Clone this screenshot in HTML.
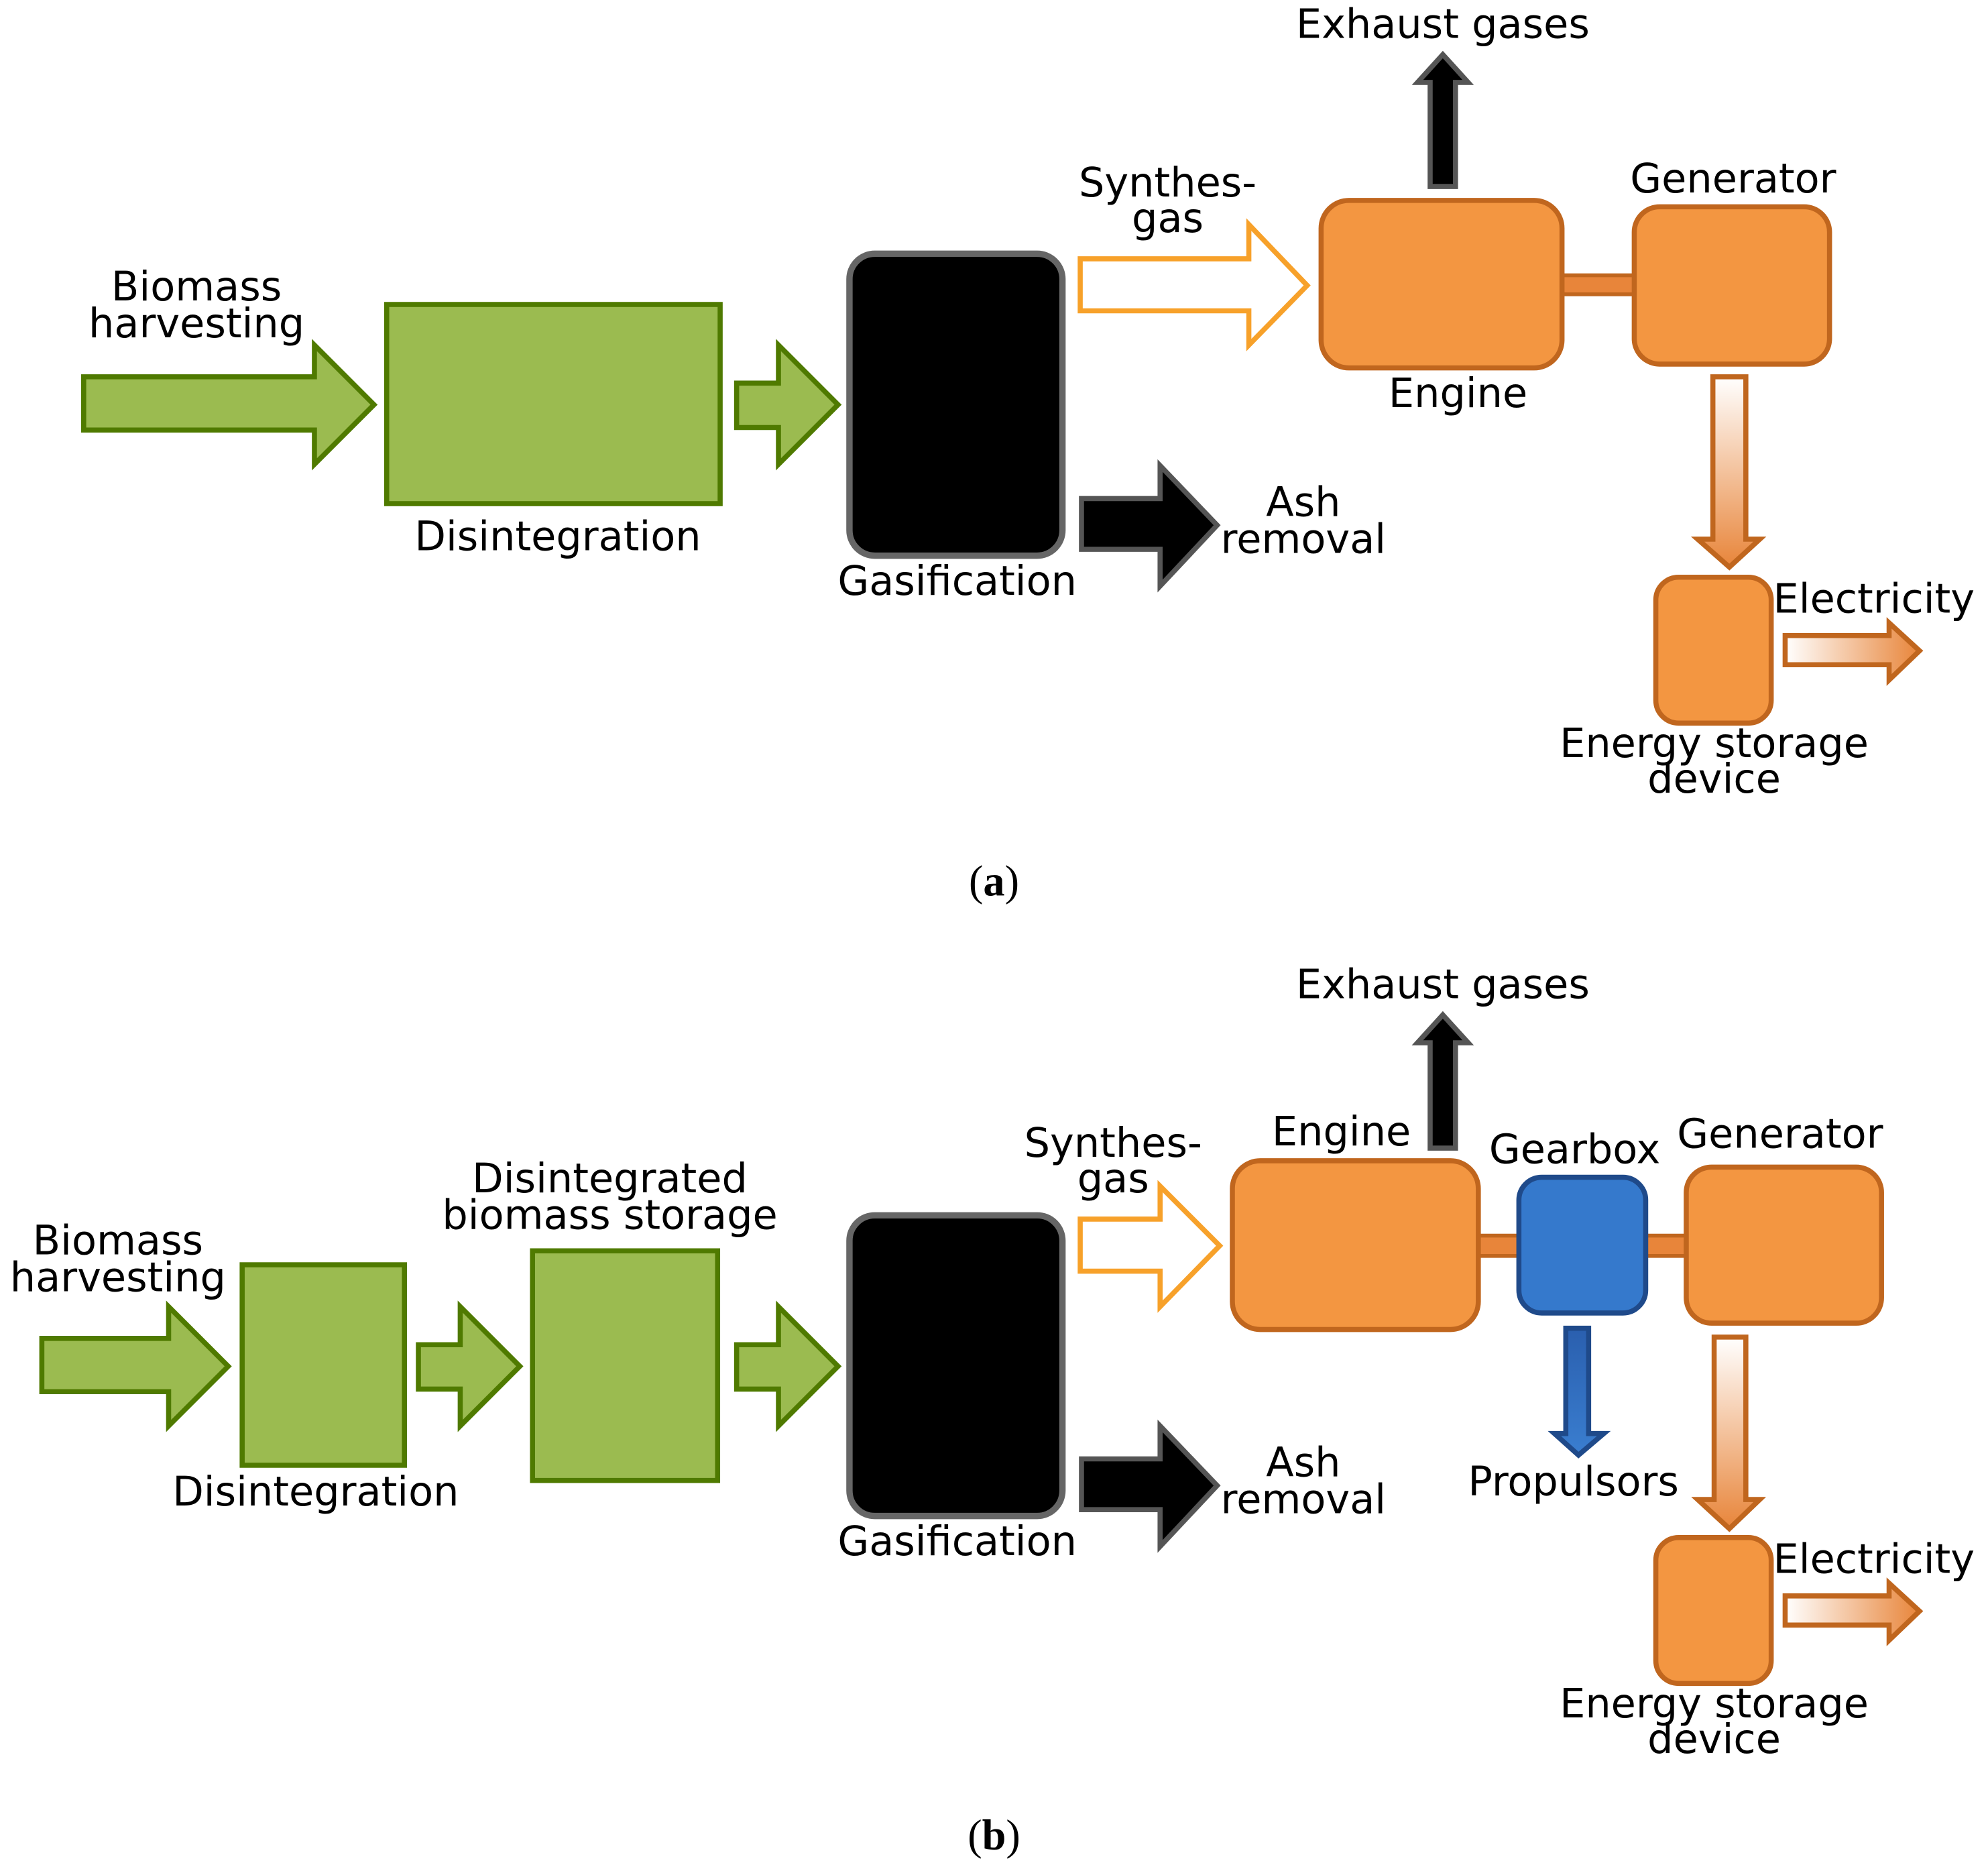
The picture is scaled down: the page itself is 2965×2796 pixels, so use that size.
<!DOCTYPE html>
<html><head><meta charset="utf-8"><style>html,body{margin:0;padding:0;background:#fff}svg{display:block}</style></head>
<body>
<svg width="2965" height="2796" viewBox="0 0 1568 1478" preserveAspectRatio="none" xmlns="http://www.w3.org/2000/svg">
<defs>
<linearGradient id="gv" x1="0" y1="0" x2="0" y2="1"><stop offset="0" stop-color="#fff"/><stop offset="1" stop-color="#e8853a"/></linearGradient>
<linearGradient id="gh" x1="0" y1="0" x2="1" y2="0"><stop offset="0" stop-color="#fff"/><stop offset="1" stop-color="#e8853a"/></linearGradient>
<linearGradient id="gb" x1="0" y1="0" x2="0" y2="1"><stop offset="0" stop-color="#2a5fae"/><stop offset="1" stop-color="#3a7ed0"/></linearGradient>
</defs>
<g font-family="DejaVu Sans, Liberation Sans, sans-serif" font-size="32" text-anchor="middle" dominant-baseline="middle" fill="#000">

<!-- Panel a -->
<polygon points="66,297 248,297 248,272 295,319 248,366 248,339 66,339" fill="#9bbb50" stroke="#4f7a00" stroke-width="4"/>
<text x="155" y="228">Biomass</text><text x="155" y="257">harvesting</text>
<rect x="305" y="240" width="263" height="157" fill="#9bbb50" stroke="#4f7a00" stroke-width="4"/>
<text x="440" y="425">Disintegration</text>
<polygon points="581,302 614,302 614,272 661,319 614,366 614,337 581,337" fill="#9bbb50" stroke="#4f7a00" stroke-width="4"/>
<rect x="670" y="200" width="168" height="238" rx="20" fill="#000" stroke="#666" stroke-width="5"/>
<text x="755" y="460">Gasification</text>
<polygon points="852,204 985,204 985,177 1031,225 985,272 985,245 852,245" fill="#fff" stroke="#f7a12a" stroke-width="4"/>
<text x="921" y="146">Synthes-</text><text x="921" y="174">gas</text>
<polygon points="853,393 915,393 915,367 960,414 915,462 915,433 853,433" fill="#000" stroke="#555" stroke-width="4"/>
<text x="1028" y="398">Ash</text><text x="1028" y="427">removal</text>
<polygon points="1128,147 1128,65 1118,65 1138,43 1158,65 1148,65 1148,147" fill="#000" stroke="#555" stroke-width="4"/>
<text x="1138" y="21">Exhaust gases</text>
<rect x="1232" y="217" width="58" height="15" fill="#e8853a" stroke="#c0661e" stroke-width="3"/>
<rect x="1042" y="158" width="190" height="132" rx="22" fill="#f39641" stroke="#c0661e" stroke-width="4"/>
<text x="1150" y="312">Engine</text>
<rect x="1289" y="163" width="154" height="124" rx="20" fill="#f39641" stroke="#c0661e" stroke-width="4"/>
<text x="1367" y="143">Generator</text>
<polygon points="1351,297 1377,297 1377,425 1388,425 1364,447 1339,425 1351,425" fill="url(#gv)" stroke="#c0661e" stroke-width="4"/>
<rect x="1306" y="455" width="91" height="115" rx="18" fill="#f39641" stroke="#c0661e" stroke-width="4"/>
<text x="1352" y="588">Energy storage</text><text x="1352" y="616">device</text>
<polygon points="1408,501 1490,501 1490,491 1514,513 1490,536 1490,524 1408,524" fill="url(#gh)" stroke="#c0661e" stroke-width="4"/>
<text x="1478" y="474">Electricity</text>
<text x="784" y="698" font-size="34" font-family="Liberation Serif, serif">(<tspan font-weight="bold">a</tspan>)</text>

<!-- Panel b -->
<polygon points="33,1055 133,1055 133,1030 180,1077 133,1124 133,1097 33,1097" fill="#9bbb50" stroke="#4f7a00" stroke-width="4"/>
<text x="93" y="980">Biomass</text><text x="93" y="1009">harvesting</text>
<rect x="191" y="997" width="128" height="158" fill="#9bbb50" stroke="#4f7a00" stroke-width="4"/>
<text x="249" y="1178">Disintegration</text>
<polygon points="330,1060 363,1060 363,1030 410,1077 363,1124 363,1095 330,1095" fill="#9bbb50" stroke="#4f7a00" stroke-width="4"/>
<rect x="420" y="986" width="146" height="181" fill="#9bbb50" stroke="#4f7a00" stroke-width="4"/>
<text x="481" y="931">Disintegrated</text><text x="481" y="960">biomass storage</text>
<polygon points="581,1060 614,1060 614,1030 661,1077 614,1124 614,1095 581,1095" fill="#9bbb50" stroke="#4f7a00" stroke-width="4"/>
<rect x="670" y="958" width="168" height="237" rx="20" fill="#000" stroke="#666" stroke-width="5"/>
<text x="755" y="1217">Gasification</text>
<polygon points="852,961 915,961 915,935 962,982 915,1030 915,1002 852,1002" fill="#fff" stroke="#f7a12a" stroke-width="4"/>
<text x="878" y="903">Synthes-</text><text x="878" y="931">gas</text>
<polygon points="853,1150 915,1150 915,1124 960,1171 915,1219 915,1190 853,1190" fill="#000" stroke="#555" stroke-width="4"/>
<text x="1028" y="1155">Ash</text><text x="1028" y="1184">removal</text>
<polygon points="1128,905 1128,822 1118,822 1138,800 1158,822 1148,822 1148,905" fill="#000" stroke="#555" stroke-width="4"/>
<text x="1138" y="778">Exhaust gases</text>
<rect x="1166" y="974" width="34" height="16" fill="#e8853a" stroke="#c0661e" stroke-width="3"/>
<rect x="1298" y="974" width="33" height="16" fill="#e8853a" stroke="#c0661e" stroke-width="3"/>
<rect x="972" y="915" width="194" height="133" rx="22" fill="#f39641" stroke="#c0661e" stroke-width="4"/>
<text x="1058" y="894">Engine</text>
<rect x="1198" y="928" width="100" height="107" rx="18" fill="#3579cc" stroke="#1f4a8a" stroke-width="4"/>
<text x="1242" y="908">Gearbox</text>
<rect x="1330" y="920" width="154" height="123" rx="20" fill="#f39641" stroke="#c0661e" stroke-width="4"/>
<text x="1404" y="896">Generator</text>
<polygon points="1235,1047 1253,1047 1253,1130 1265,1130 1245,1147 1226,1130 1235,1130" fill="url(#gb)" stroke="#1f4a8a" stroke-width="4"/>
<text x="1241" y="1170">Propulsors</text>
<polygon points="1352,1054 1377,1054 1377,1182 1388,1182 1364,1205 1339,1182 1352,1182" fill="url(#gv)" stroke="#c0661e" stroke-width="4"/>
<rect x="1306" y="1212" width="91" height="115" rx="18" fill="#f39641" stroke="#c0661e" stroke-width="4"/>
<text x="1352" y="1345">Energy storage</text><text x="1352" y="1373">device</text>
<polygon points="1408,1258 1490,1258 1490,1248 1514,1270 1490,1293 1490,1281 1408,1281" fill="url(#gh)" stroke="#c0661e" stroke-width="4"/>
<text x="1478" y="1231">Electricity</text>
<text x="784" y="1450" font-size="34" font-family="Liberation Serif, serif">(<tspan font-weight="bold">b</tspan>)</text>
</g>
</svg>
</body></html>
